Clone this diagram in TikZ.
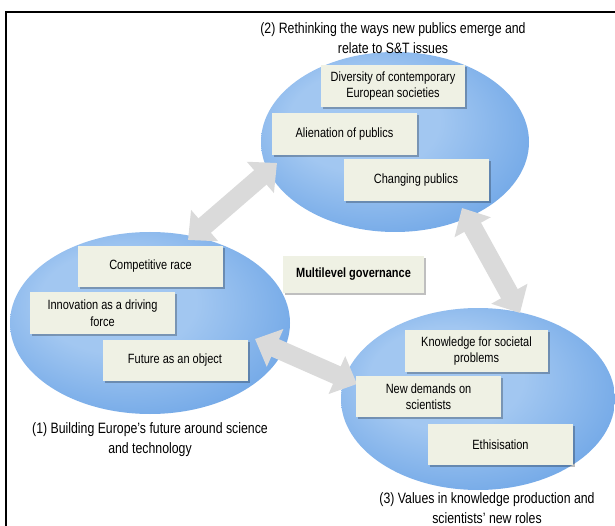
\documentclass[tikz,border=0pt]{standalone}
\usepackage{fontspec}
\setmainfont{Liberation Sans}[FakeStretch=0.82]
\usetikzlibrary{shadows,arrows.meta,shapes.geometric}
\definecolor{ecA}{HTML}{A2C7F1}
\definecolor{ecB}{HTML}{72A8E7}
\definecolor{ecC}{HTML}{4F8EDB}
\definecolor{ecD}{HTML}{A9CBF2}
\definecolor{ecE}{HTML}{E4EFFB}
\definecolor{boxfill}{HTML}{EFF1E4}
\definecolor{arrowgray}{HTML}{DADADA}
\pgfdeclareradialshading{blob}{\pgfpoint{-8bp}{8bp}}{color(0bp)=(ecA); color(14bp)=(ecA); color(31bp)=(ecB); color(40bp)=(ecC); color(44.5bp)=(ecD); color(47.5bp)=(ecE); color(50bp)=(white)}
\tikzset{
  blobnode/.style={ellipse, shading=blob, inner sep=0pt},
  boxnode/.style={rectangle, fill=boxfill, inner sep=0pt, minimum width=145pt, minimum height=42pt, align=center,
    font=\fontsize{13.4pt}{16.5pt}\selectfont,
    drop shadow={shadow xshift=2pt, shadow yshift=-2pt, fill=black, opacity=0.25}},
  titlenode/.style={align=center, font=\fontsize{15pt}{20pt}\selectfont},
  fatarrow/.style={draw=arrowgray, line width=19pt,
    arrows={Triangle[length=22pt,width=40pt]-Triangle[length=22pt,width=40pt]}},
  frameline/.style={draw=black, line width=1.5pt}
}
\begin{document}
\begin{tikzpicture}[x=1pt,y=-1pt]
\fill[white] (0,0) rectangle (615,526);
\useasboundingbox (0,0) rectangle (615,526);
% frame
\coordinate (f1) at (6,526);
\coordinate (f2) at (6,12);
\coordinate (f3) at (615,12);
\draw[frameline] (f1) -- (f2) -- (f3);
% ellipses
\node[blobnode, minimum width=280pt, minimum height=182pt] (e1) at (150,323) {};
\node[blobnode, minimum width=268pt, minimum height=180pt] (e2) at (395,142) {};
\node[blobnode, minimum width=274pt, minimum height=182pt] (e3) at (478,399) {};
% arrows
\coordinate (a1s) at (188,240);
\coordinate (a1e) at (277,163);
\coordinate (a2s) at (462,208);
\coordinate (a2e) at (520,313);
\coordinate (a3s) at (255,339);
\coordinate (a3e) at (357,384);
\draw[fatarrow] (a1s) -- (a1e);
\draw[fatarrow] (a2s) -- (a2e);
\draw[fatarrow] (a3s) -- (a3e);
% boxes cluster 2
\node[boxnode, minimum width=144pt] (b21) at (393,86) {Diversity of contemporary\\European societies};
\node[boxnode] (b22) at (344.5,134) {Alienation of publics};
\node[boxnode] (b23) at (416,180.5) {Changing publics};
% boxes cluster 1
\node[boxnode, minimum height=41pt] (b11) at (150.5,266.5) {Competitive race};
\node[boxnode] (b12) at (102.5,313) {Innovation as a driving\\force};
\node[boxnode, minimum height=41pt] (b13) at (175,360.5) {Future as an object};
% center
\node[boxnode, minimum width=141pt, minimum height=37pt, font=\fontsize{13.4pt}{16.5pt}\selectfont\bfseries] (mg) at (353.5,274.5) {Multilevel governance};
% boxes cluster 3
\node[boxnode, minimum width=143pt] (b31) at (476.5,351) {Knowledge for societal\\problems};
\node[boxnode, minimum height=41pt] (b32) at (428.5,396.5) {New demands on\\scientists};
\node[boxnode, minimum height=41pt] (b33) at (500.5,444.5) {Ethisisation};
% titles
\node[titlenode] (t2) at (393,38.5) {(2) Rethinking the ways new publics emerge and\\relate to S\&T issues};
\node[titlenode] (t1) at (150,439.5) {(1) Building Europe’s future around science\\and technology};
\node[titlenode] (t3) at (487,508) {(3) Values in knowledge production and\\scientists’ new roles};
\end{tikzpicture}
\end{document}
